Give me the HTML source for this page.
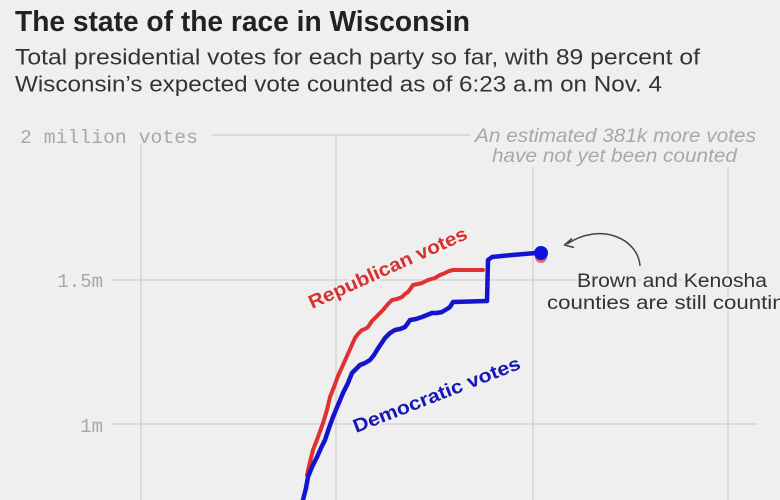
<!DOCTYPE html>
<html>
<head>
<meta charset="utf-8">
<style>
  html, body { margin: 0; padding: 0; background: #efefef; }
  body { width: 780px; height: 500px; overflow: hidden; }
  svg { display: block; }
</style>
</head>
<body>
<svg width="780" height="500" viewBox="0 0 780 500" xmlns="http://www.w3.org/2000/svg">
  <rect x="0" y="0" width="780" height="500" fill="#efefef"/>

  <!-- Title & subtitle -->
  <text x="15" y="31" font-family="Liberation Sans, sans-serif" font-weight="bold" font-size="28.5" fill="#222" textLength="455" lengthAdjust="spacingAndGlyphs">The state of the race in Wisconsin</text>
  <text x="15" y="64.5" font-family="Liberation Sans, sans-serif" font-size="22" fill="#333" textLength="685" lengthAdjust="spacingAndGlyphs">Total presidential votes for each party so far, with 89 percent of</text>
  <text x="15" y="91.5" font-family="Liberation Sans, sans-serif" font-size="22" fill="#333" textLength="647" lengthAdjust="spacingAndGlyphs">Wisconsin’s expected vote counted as of 6:23 a.m on Nov. 4</text>

  <!-- Grid -->
  <g stroke="#d3d3d3" stroke-width="1.5" fill="none">
    <line x1="212" y1="135" x2="470" y2="135"/>
    <line x1="111" y1="280" x2="760" y2="280"/>
    <line x1="111" y1="424" x2="758" y2="424"/>
    <line x1="141" y1="145" x2="141" y2="500"/>
    <line x1="336" y1="135" x2="336" y2="500"/>
    <line x1="533" y1="167" x2="533" y2="500"/>
    <line x1="728" y1="167" x2="728" y2="500"/>
  </g>

  <!-- Axis labels -->
  <g font-family="Liberation Mono, monospace" font-size="19" fill="#a8a8a8">
    <text x="20" y="143" textLength="178" lengthAdjust="spacingAndGlyphs">2 million votes</text>
    <text x="103" y="287" text-anchor="end">1.5m</text>
    <text x="103" y="432" text-anchor="end">1m</text>
  </g>

  <!-- Uncounted annotation -->
  <g font-family="Liberation Sans, sans-serif" font-style="italic" font-size="19" fill="#a8a8a8">
    <text x="475" y="142" textLength="281" lengthAdjust="spacingAndGlyphs">An estimated 381k more votes</text>
    <text x="492" y="162" textLength="245" lengthAdjust="spacingAndGlyphs">have not yet been counted</text>
  </g>

  <!-- Republican line -->
  <polyline fill="none" stroke="#e0302f" stroke-width="4" stroke-linejoin="round" stroke-linecap="round"
    points="307,475 310,462 313,450 318,437 323,423 327,410 330,397 334,387 338,376 343,365 347,356 351,347 355,338 358,334 362,330 365,329 368,327 372,321 375,318 380,313 383,310 388,304 392,300 397,299 402,297 405,294 408,292 411,288 413,285 418,284 422,283 426,281 428,280 435,278 440,275 445,273 449,271 453,270 483,270"/>

  <!-- Democratic line -->
  <polyline fill="none" stroke="#1414cf" stroke-width="4.5" stroke-linejoin="round" stroke-linecap="round"
    points="303,500 306,488 308,477 312,467 317,457 321,448 325,440 329,428 333,417 338,405 343,393 348,383 352,373 356,369 360,365 365,363 370,360 374,355 377,350 381,344 385,338 390,333 395,330 400,329 405,327 408,323 410,320 416,319 422,317 427,315 432,313 437,313 442,312 447,309 450,307 453,302 487,301 488,260 492,257 512,255 536,253"/>

  <!-- End dots -->
  <circle cx="541" cy="257" r="6" fill="#e06a78"/>
  <circle cx="541" cy="253" r="7" fill="#1010e0"/>

  <!-- Arrow -->
  <path d="M640,266 C638,238 600,222 567,244" fill="none" stroke="#444" stroke-width="1.5"/>
  <path d="M572,238.5 L564.5,245 L574,247.5" fill="none" stroke="#444" stroke-width="1.5" stroke-linejoin="round"/>

  <!-- Brown/Kenosha note -->
  <g font-family="Liberation Sans, sans-serif" font-size="19" fill="#333" stroke="#efefef" stroke-width="4" paint-order="stroke">
    <text x="577" y="287" textLength="190" lengthAdjust="spacingAndGlyphs">Brown and Kenosha</text>
    <text x="547" y="309" textLength="250" lengthAdjust="spacingAndGlyphs">counties are still counting</text>
  </g>

  <!-- Series labels -->
  <text x="0" y="0" transform="translate(312,309) rotate(-24.3)" font-family="Liberation Sans, sans-serif" font-weight="bold" font-size="19" fill="#d8302f" stroke="#efefef" stroke-width="3" paint-order="stroke" textLength="172" lengthAdjust="spacingAndGlyphs">Republican votes</text>
  <text x="0" y="0" transform="translate(356,433) rotate(-21.3)" font-family="Liberation Sans, sans-serif" font-weight="bold" font-size="19" fill="#1818b4" stroke="#efefef" stroke-width="3" paint-order="stroke" textLength="178" lengthAdjust="spacingAndGlyphs">Democratic votes</text>
</svg>
</body>
</html>
